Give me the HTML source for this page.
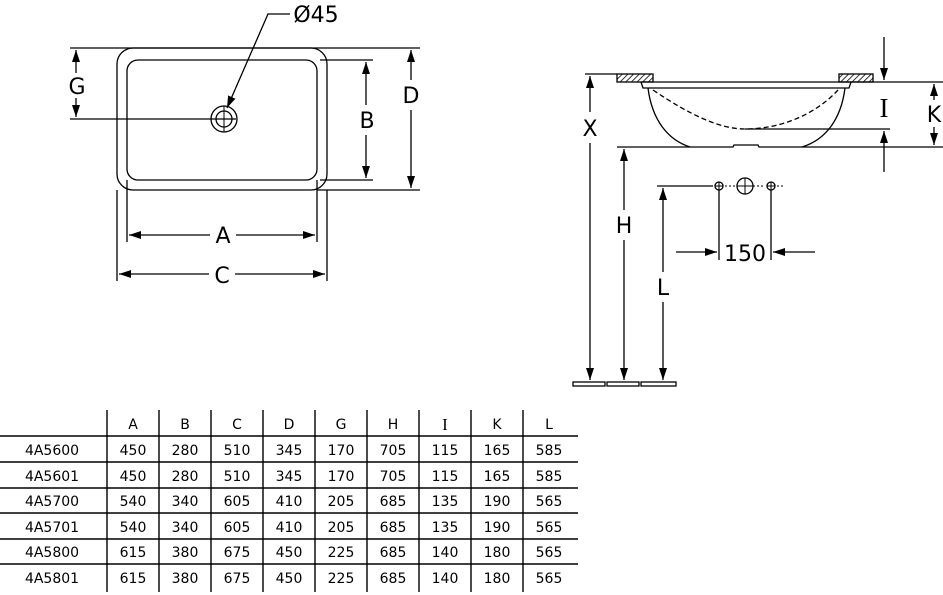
<!DOCTYPE html>
<html><head><meta charset="utf-8"><style>body{margin:0;background:#fff}svg{display:block}</style></head><body>
<svg width="943" height="595" viewBox="0 0 943 595" xmlns="http://www.w3.org/2000/svg" font-family="DejaVu Sans, Liberation Sans, sans-serif">
<defs>
<marker id="a" viewBox="0 0 12 8" refX="12" refY="4" markerWidth="12" markerHeight="8" markerUnits="userSpaceOnUse" orient="auto-start-reverse"><path d="M0,0L12,4L0,8z" fill="#000"/></marker>
<pattern id="h" width="4" height="4" patternUnits="userSpaceOnUse" patternTransform="rotate(45)"><line x1="0" y1="0" x2="0" y2="4" stroke="#000" stroke-width="1.6"/></pattern>
</defs>
<g stroke="#000" stroke-width="1.3" fill="none">
<rect x="117" y="48" width="210" height="142" rx="16"/>
<rect x="127" y="60" width="190" height="120" rx="11"/>
<circle cx="224" cy="119" r="13"/><circle cx="224" cy="119" r="8"/>
<line x1="224" y1="106" x2="224" y2="132" stroke-width="1"/><line x1="216" y1="119" x2="232" y2="119" stroke-width="1"/>
<line x1="70" y1="48" x2="420" y2="48"/>
<line x1="70" y1="119" x2="236" y2="119"/>
<line x1="76" y1="50" x2="76" y2="73" marker-start="url(#a)"/>
<line x1="76" y1="98" x2="76" y2="117" marker-end="url(#a)"/>
<line x1="320" y1="60" x2="373" y2="60"/><line x1="320" y1="180" x2="373" y2="180"/>
<line x1="366" y1="62" x2="366" y2="105" marker-start="url(#a)"/>
<line x1="366" y1="135" x2="366" y2="178" marker-end="url(#a)"/>
<line x1="317" y1="190" x2="420" y2="190"/>
<line x1="411" y1="50" x2="411" y2="80" marker-start="url(#a)"/>
<line x1="411" y1="110" x2="411" y2="188" marker-end="url(#a)"/>
<line x1="127" y1="180" x2="127" y2="242"/><line x1="317" y1="180" x2="317" y2="242"/>
<line x1="129" y1="235" x2="210" y2="235" marker-start="url(#a)"/>
<line x1="236" y1="235" x2="315" y2="235" marker-end="url(#a)"/>
<line x1="117" y1="190" x2="117" y2="281"/><line x1="327" y1="190" x2="327" y2="281"/>
<line x1="119" y1="274" x2="209" y2="274" marker-start="url(#a)"/>
<line x1="235" y1="274" x2="325" y2="274" marker-end="url(#a)"/>
<polyline points="290,14 268,14 227,108" marker-end="url(#a)"/>
<line x1="585" y1="74" x2="617" y2="74"/>
<rect x="617" y="74" width="36" height="8" fill="url(#h)"/>
<rect x="839" y="74" width="34" height="8" fill="url(#h)"/>
<line x1="641" y1="82" x2="943" y2="82"/>
<path d="M641,82 L643,88 L849,88 L851,82"/>
<path d="M648,88 C652,120 668,140 690,147"/>
<path d="M845,88 C841,120 825,140 802,147"/>
<path d="M653,90 C690,115 720,129 745,129 C780,129 815,115 838,90" stroke-dasharray="5,3"/>
<line x1="745" y1="129" x2="890" y2="129"/>
<path d="M617,147 L733,147 L734,145 L758,145 L759,147 L943,147"/>
<line x1="884" y1="37" x2="884" y2="80" marker-end="url(#a)"/>
<line x1="884" y1="172" x2="884" y2="131" marker-end="url(#a)"/>
<line x1="934" y1="84" x2="934" y2="100" marker-start="url(#a)"/>
<line x1="934" y1="127" x2="934" y2="145" marker-end="url(#a)"/>
<line x1="590" y1="76" x2="590" y2="112" marker-start="url(#a)"/>
<line x1="590" y1="143" x2="590" y2="380" marker-end="url(#a)"/>
<line x1="624" y1="149" x2="624" y2="210" marker-start="url(#a)"/>
<line x1="624" y1="240" x2="624" y2="380" marker-end="url(#a)"/>
<line x1="657" y1="186" x2="713" y2="186"/>
<line x1="663" y1="188" x2="663" y2="272" marker-start="url(#a)"/>
<line x1="663" y1="302" x2="663" y2="380" marker-end="url(#a)"/>
<circle cx="719" cy="186" r="4"/><circle cx="771" cy="186" r="4"/><circle cx="745" cy="186" r="8"/>
<path d="M715,186h8M719,182v8M767,186h8M771,182v8M737,186h16M745,178v16" stroke-width="1"/>
<path d="M725,186h12M753,186h12M777,186h6" stroke-dasharray="2,2" stroke-width="1"/>
<line x1="719" y1="190" x2="719" y2="260"/><line x1="771" y1="190" x2="771" y2="260"/>
<line x1="676" y1="252" x2="717" y2="252" marker-end="url(#a)"/>
<line x1="815" y1="252" x2="773" y2="252" marker-end="url(#a)"/>
<rect x="573" y="382" width="32" height="4"/><rect x="607" y="382" width="32" height="4"/><rect x="641" y="382" width="35" height="4"/>
<g stroke-width="1.4">
<line x1="0" y1="436" x2="578" y2="436"/><line x1="0" y1="462" x2="578" y2="462"/>
<line x1="0" y1="488" x2="578" y2="488"/><line x1="0" y1="513" x2="578" y2="513"/>
<line x1="0" y1="539" x2="578" y2="539"/><line x1="0" y1="564" x2="578" y2="564"/>
<path d="M107,410V592M159,410V592M211,410V592M263,410V592M315,410V592M367,410V592M419,410V592M471,410V592M523,410V592"/>
</g>
</g>
<g font-size="22" text-anchor="middle" fill="#000">
<rect x="67" y="74" width="18" height="24" fill="#fff"/><text x="77" y="94">G</text>
<rect x="356" y="107" width="20" height="26" fill="#fff"/><text x="367" y="128">B</text>
<text x="411" y="103">D</text>
<text x="223" y="243">A</text>
<text x="222" y="283">C</text>
<text x="316" y="22">Ø45</text>
<text x="590" y="136">X</text>
<text x="624" y="233">H</text>
<text x="663" y="295">L</text>
<text x="884" y="117" font-family="Liberation Serif, serif" font-size="27">I</text>
<text x="934" y="122">K</text>
<text x="745" y="261">150</text>
</g>
<g font-size="14" text-anchor="middle" fill="#000">
<text x="133" y="429">A</text><text x="185" y="429">B</text><text x="237" y="429">C</text><text x="289" y="429">D</text><text x="341" y="429">G</text><text x="393" y="429">H</text><text x="445" y="430" font-family="Liberation Serif, serif" font-size="17">I</text><text x="497" y="429">K</text><text x="549" y="429">L</text>
<text x="52" y="455">4A5600</text><text x="133" y="455">450</text><text x="185" y="455">280</text><text x="237" y="455">510</text><text x="289" y="455">345</text><text x="341" y="455">170</text><text x="393" y="455">705</text><text x="445" y="455">115</text><text x="497" y="455">165</text><text x="549" y="455">585</text>
<text x="52" y="481">4A5601</text><text x="133" y="481">450</text><text x="185" y="481">280</text><text x="237" y="481">510</text><text x="289" y="481">345</text><text x="341" y="481">170</text><text x="393" y="481">705</text><text x="445" y="481">115</text><text x="497" y="481">165</text><text x="549" y="481">585</text>
<text x="52" y="506">4A5700</text><text x="133" y="506">540</text><text x="185" y="506">340</text><text x="237" y="506">605</text><text x="289" y="506">410</text><text x="341" y="506">205</text><text x="393" y="506">685</text><text x="445" y="506">135</text><text x="497" y="506">190</text><text x="549" y="506">565</text>
<text x="52" y="532">4A5701</text><text x="133" y="532">540</text><text x="185" y="532">340</text><text x="237" y="532">605</text><text x="289" y="532">410</text><text x="341" y="532">205</text><text x="393" y="532">685</text><text x="445" y="532">135</text><text x="497" y="532">190</text><text x="549" y="532">565</text>
<text x="52" y="557">4A5800</text><text x="133" y="557">615</text><text x="185" y="557">380</text><text x="237" y="557">675</text><text x="289" y="557">450</text><text x="341" y="557">225</text><text x="393" y="557">685</text><text x="445" y="557">140</text><text x="497" y="557">180</text><text x="549" y="557">565</text>
<text x="52" y="583">4A5801</text><text x="133" y="583">615</text><text x="185" y="583">380</text><text x="237" y="583">675</text><text x="289" y="583">450</text><text x="341" y="583">225</text><text x="393" y="583">685</text><text x="445" y="583">140</text><text x="497" y="583">180</text><text x="549" y="583">565</text>
</g>
</svg>
</body></html>
